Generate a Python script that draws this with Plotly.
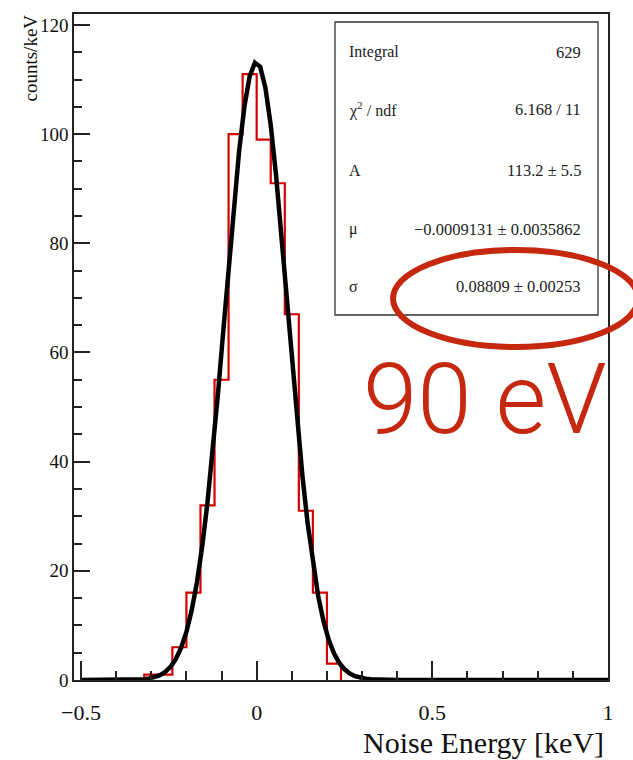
import numpy as np
import plotly.graph_objects as go

# ---------------- data ----------------
bin_edges = [-0.32, -0.28, -0.24, -0.20, -0.16, -0.12, -0.08, -0.04,
             0.00, 0.04, 0.08, 0.12, 0.16, 0.20, 0.24]
counts = [1, 1, 6, 16, 32, 55, 100, 111, 99, 91, 67, 31, 16, 3]

fit_A = 113.2
fit_mu = -0.0009131
fit_sigma = 0.08809
fit_range = (-0.5, 1.0)
fit_npx = 101

x_tick_vals = [-0.5, 0, 0.5, 1]
x_tick_text = ["\u22120.5", "0", "0.5", "1"]
x_minor_vals = [-0.4, -0.3, -0.2, -0.1, 0.1, 0.2, 0.3, 0.4, 0.6, 0.7, 0.8, 0.9]
y_tick_vals = [0, 20, 40, 60, 80, 100, 120]
y_tick_text = ["0", "20", "40", "60", "80", "100", "120"]

stat_labels = ["Integral", "\u03c7<sup>2</sup> / ndf", "A", "\u03bc", "\u03c3"]
stat_values = ["629", "6.168 / 11", "113.2 \u00b1 5.5",
               "\u22120.0009131 \u00b1 0.0035862", "0.08809 \u00b1 0.00253"]

x_title = "Noise Energy [keV]"
y_title = "counts/keV"
note_text = "90 eV"

# ---------------- geometry helpers ----------------
W, H = 633, 760
L, R, T, B = 74, 608, 14, 680


def px(x):
    return (x - L) / (R - L)


def py(y):
    return (B - y) / (B - T)


SERIF = "Liberation Serif"
RED_NOTE = "#c5280f"

# histogram outline (step)
hx = [bin_edges[0]] + list(bin_edges)
hy = [0] + list(counts) + [0]

# gaussian fit curve from fit parameters
fx = np.linspace(fit_range[0], fit_range[1], fit_npx)
fy = fit_A * np.exp(-0.5 * ((fx - fit_mu) / fit_sigma) ** 2)

fig = go.Figure()
fig.add_trace(go.Scatter(x=hx, y=hy, mode="lines", line_shape="hv",
                         line=dict(color="#d40000", width=2.2),
                         showlegend=False, hoverinfo="skip"))
fig.add_trace(go.Scatter(x=fx, y=fy, mode="lines",
                         line=dict(color="black", width=4.5),
                         showlegend=False, hoverinfo="skip"))

fig.update_layout(
    width=W, height=H,
    margin=dict(l=L, r=W - R, t=T, b=H - B, pad=0),
    paper_bgcolor="white", plot_bgcolor="white",
    showlegend=False,
    font=dict(family=SERIF, color="black"),
    xaxis=dict(range=[-0.52, 1.0], tickmode="array", tickvals=x_tick_vals,
               ticktext=x_tick_text, ticks="inside", ticklen=19, tickwidth=1.5,
               tickcolor="#222", showgrid=False, zeroline=False,
               showline=True, linecolor="#222", linewidth=1.5, mirror=True,
               tickfont=dict(family=SERIF, size=22, color="#111"),
               ticklabelstandoff=12,
               minor=dict(tickmode="array", tickvals=x_minor_vals,
                          ticks="inside", ticklen=9, tickwidth=1.5,
                          tickcolor="#222", showgrid=False)),
    yaxis=dict(range=[0, 122], tickmode="array", tickvals=y_tick_vals,
               ticktext=y_tick_text, ticks="inside", ticklen=16, tickwidth=1.5,
               tickcolor="#222", showgrid=False, zeroline=False,
               showline=True, linecolor="#222", linewidth=1.5, mirror=True,
               tickfont=dict(family=SERIF, size=19, color="#111"),
               ticklabelstandoff=0,
               minor=dict(dtick=5, tick0=0, ticks="inside", ticklen=8,
                          tickwidth=1.5, tickcolor="#222", showgrid=False)),
)

annotations = []
# axis titles
annotations.append(dict(xref="paper", yref="paper", x=px(606), y=py(761),
                        xanchor="right", yanchor="bottom", showarrow=False,
                        text=x_title, font=dict(family=SERIF, size=30, color="#111")))
annotations.append(dict(xref="paper", yref="paper", x=px(30), y=py(13),
                        xanchor="center", yanchor="top", showarrow=False,
                        textangle=-90, text=y_title,
                        font=dict(family=SERIF, size=19, color="#111")))

# stats box
stat_rows_y = [52, 110, 170, 229, 286]
for lab, val, yy in zip(stat_labels, stat_values, stat_rows_y):
    annotations.append(dict(xref="paper", yref="paper", x=px(347), y=py(yy),
                            xanchor="left", yanchor="middle", showarrow=False,
                            text=lab, font=dict(family=SERIF, size=16, color="#222")))
    annotations.append(dict(xref="paper", yref="paper", x=px(583), y=py(yy),
                            xanchor="right", yanchor="middle", showarrow=False,
                            text=val, font=dict(family=SERIF, size=16.5, color="#222")))

# big note
annotations.append(dict(xref="paper", yref="paper", x=px(485), y=py(399),
                        xanchor="center", yanchor="middle", showarrow=False,
                        text=note_text,
                        font=dict(family="Roboto", size=98, color=RED_NOTE,
                                  weight=300)))
fig.update_layout(annotations=annotations)

shapes = [
    dict(type="rect", xref="paper", yref="paper", x0=px(335), x1=px(598),
         y0=py(315), y1=py(22), line=dict(color="#333", width=1.3),
         fillcolor="white", layer="above"),
    dict(type="circle", xref="paper", yref="paper", x0=px(393), x1=px(638),
         y0=py(347), y1=py(250), line=dict(color=RED_NOTE, width=6),
         layer="above"),
]
fig.update_layout(shapes=shapes)

fig.write_html("out.html",
               config={"displayModeBar": False},
               post_script="document.body.style.margin='0px';"
                           "document.body.style.overflow='hidden';")
